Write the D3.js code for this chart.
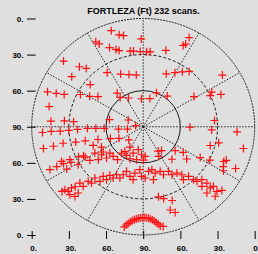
<!DOCTYPE html>
<html lang="en">
<head>
<meta charset="UTF-8">
<title>FORTLEZA sky coverage</title>
<script src="https://d3js.org/d3.v7.min.js"></script>
<style>
  body { margin: 0; padding: 0; overflow: hidden; background: #dfdfdf; }
  svg text { font-family: "Liberation Sans", Arial, sans-serif; font-weight: bold; fill: #000; }
</style>
</head>
<body>
<div id="chart"></div>
<script>
const width = 258, height = 254;

const title = "FORTLEZA (Ft)  232 scans.";
// axis positions are zenith-distance offsets in degrees, labels show elevation
const tickValues = [-90, -60, -30, 0, 30, 60, 90];
const tickLabels = ["0.", "30.", "60.", "90.", "60.", "30.", "0."];
const ringZenith = [30, 60, 90];
const spokeAzimuths = [0, 30, 60, 90, 120, 150, 180, 210, 240, 270, 300, 330];

// scans: [east offset deg, north offset deg] from zenith
const scans = [
  [-25.8, 79.9], [-19.4, 76.4], [-15.9, 75.8], [-1.6, 73.0], [-38.3, 70.6], [-35.5, 68.9],
  [-27.2, 65.8], [-22.0, 64.3], [-19.4, 63.3], [-10.5, 62.9], [-7.8, 62.9], [-2.4, 62.5],
  [2.7, 62.3], [5.6, 62.3], [18.3, 63.5], [32.3, 67.6], [34.3, 68.7], [37.1, 74.1],
  [-64.3, 54.6], [-51.5, 49.9], [-46.0, 48.5], [-57.7, 41.6], [-29.1, 45.0], [-18.2, 43.8],
  [-11.5, 43.4], [-5.6, 43.0], [18.6, 44.0], [25.6, 45.0], [31.6, 45.7], [37.1, 46.0],
  [63.9, 43.0], [-42.8, 35.1], [-77.2, 29.0], [-70.2, 27.8], [-63.8, 26.9], [-50.7, 26.8],
  [-43.2, 25.3], [-36.5, 25.1], [-21.0, 28.0], [-18.6, 24.4], [-11.9, 23.9], [-1.4, 23.3],
  [10.7, 28.2], [19.4, 25.5], [5.4, 23.4], [41.0, 25.1], [55.3, 28.8], [54.1, 25.9],
  [62.7, 26.9], [-75.9, 16.8], [-74.5, 4.6], [-63.6, 4.9], [-56.1, 4.2], [-27.2, 6.0],
  [-12.1, 5.6], [-6.1, 1.0], [37.7, -0.4], [57.5, 5.2], [55.3, -2.6], [75.7, -4.2],
  [-81.3, -4.8], [-74.2, -3.8], [-67.0, -3.6], [-60.1, -3.0], [-53.0, -2.2], [-45.0, -1.3],
  [-38.2, -1.3], [-31.5, -1.3], [-19.9, -1.9], [-12.7, -1.9],
  [-80.5, -18.1], [-72.4, -16.2], [-64.7, -13.7], [-54.5, -12.7], [-46.8, -11.7], [-36.5, -10.6],
  [-26.5, -9.8], [-19.6, -9.6], [-11.7, -10.9], [60.9, -13.4], [54.1, -15.6], [80.9, -18.1],
  [-10.7, -16.9], [12.1, -20.2], [14.9, -19.8], [25.8, -19.9], [32.3, -21.3], [23.2, -27.0],
  [35.1, -26.8], [46.0, -25.6], [53.8, -27.7], [65.0, -28.9], [67.0, -27.9], [64.6, -33.2],
  [74.6, -34.7], [64.8, -36.6], [12.5, -24.6],
  [-75.3, -35.6], [-69.8, -33.1], [-65.9, -28.8], [-64.3, -30.6], [-61.7, -35.2], [-59.2, -27.4],
  [-58.3, -29.7], [-52.5, -31.6], [-52.2, -24.9], [-48.2, -24.1], [-43.0, -27.9], [-39.0, -21.9],
  [-36.3, -27.4], [-33.7, -23.3], [-32.3, -21.0], [-29.6, -26.0], [-26.9, -21.9], [-24.2, -24.6],
  [-20.7, -27.4], [-17.5, -21.9], [-14.8, -20.4], [-13.5, -23.8], [-10.7, -26.6], [-8.1, -21.9],
  [-5.4, -27.4], [-4.0, -19.1], [-1.4, -23.3], [1.6, -24.6], [0.2, -27.7], [-40.4, -15.5],
  [-33.7, -16.9], [-46.8, -25.2],
  [-65.6, -53.8], [-63.2, -52.4], [-60.5, -53.7], [-59.2, -56.5], [-57.9, -50.9], [-55.1, -58.0],
  [-52.5, -55.1], [-54.9, -49.9], [-51.1, -46.8], [-48.4, -49.5], [-44.4, -45.4], [-41.7, -46.8],
  [-39.0, -42.6], [-34.9, -45.4], [-32.3, -41.2], [-29.6, -44.0], [-26.9, -40.4], [-24.2, -42.6],
  [-21.5, -39.9], [-18.8, -42.6], [-16.1, -39.9], [-13.5, -37.1], [-10.7, -41.2], [-8.1, -44.0],
  [-6.7, -38.5], [-2.7, -35.7], [-1.4, -41.2],
  [1.6, -42.6], [4.3, -37.1], [7.0, -35.7], [9.7, -38.5], [8.3, -44.0], [13.7, -37.1],
  [16.4, -39.9], [20.4, -37.1], [23.2, -39.9], [27.2, -38.5], [31.2, -39.9], [32.5, -44.0],
  [36.6, -41.2], [40.6, -44.0], [43.3, -45.4], [47.4, -44.0], [47.4, -49.5], [51.4, -46.8],
  [54.1, -50.9], [51.4, -55.1], [56.7, -49.5], [59.5, -53.7], [63.5, -52.9], [58.1, -57.8],
  [12.3, -58.3], [16.5, -59.7], [23.4, -61.3], [21.8, -69.2], [25.8, -71.3],
  [-15.3, -83.3], [-13.7, -81.7], [-12.1, -80.4], [-10.5, -79.2], [-8.9, -78.2], [-7.3, -77.4],
  [-5.6, -76.7], [-4.0, -76.2], [-2.4, -75.9], [-0.8, -75.6], [0.8, -75.5], [2.4, -75.7],
  [4.0, -76.0], [5.6, -76.5], [7.3, -77.4], [8.9, -78.4], [10.5, -79.6], [12.1, -80.9],
  [13.7, -82.5], [16.1, -82.9]
];

const svg = d3.select("#chart").append("svg")
  .attr("width", width)
  .attr("height", height);

svg.append("rect").attr("width", width).attr("height", height).attr("fill", "#dfdfdf");

const x = d3.scaleLinear().domain([-90, 90]).range([31.7, 254.7]);
const y = d3.scaleLinear().domain([90, -90]).range([18.5, 235]);

const cx = x(0), cy = y(0);
const rx = d => x(d) - x(0);
const ry = d => y(0) - y(d);

// rings
const ringStyle = {30: null, 60: "3,2", 90: "2,1"};
svg.selectAll(".ring")
  .data(ringZenith)
  .enter().append("ellipse")
  .attr("cx", cx).attr("cy", cy)
  .attr("rx", d => rx(d)).attr("ry", d => ry(d))
  .attr("fill", "none")
  .attr("stroke", "#1a1a1a")
  .attr("stroke-width", 1)
  .attr("stroke-dasharray", d => ringStyle[d]);

// spokes
svg.selectAll(".spoke")
  .data(spokeAzimuths)
  .enter().append("line")
  .attr("x1", cx).attr("y1", cy)
  .attr("x2", d => x(90 * Math.sin(d * Math.PI / 180)))
  .attr("y2", d => y(90 * Math.cos(d * Math.PI / 180)))
  .attr("stroke", "#222")
  .attr("stroke-width", 1)
  .attr("stroke-dasharray", "1.5,1.5");

// scans as plus markers
const s = 4;
const plus = svg.append("g").selectAll("path")
  .data(scans)
  .enter().append("path")
  .attr("d", d => {
    const px = x(d[0]), py = y(d[1]);
    return `M${px - s},${py}H${px + s}M${px},${py - s}V${py + s}`;
  })
  .attr("stroke", "#ff1010")
  .attr("stroke-width", 1.2)
  .attr("fill", "none");

// axes
const fmt = (d, i) => tickLabels[i];

const yAxis = svg.append("g")
  .attr("transform", "translate(35.7,0)")
  .call(d3.axisLeft(y).tickValues(tickValues).tickFormat(fmt).tickSize(8.7).tickPadding(3.5));
yAxis.select(".domain").remove();

const xAxis = svg.append("g")
  .attr("transform", "translate(0,231)")
  .call(d3.axisBottom(x).tickValues(tickValues).tickFormat(fmt).tickSize(8).tickPadding(6));
xAxis.select(".domain").remove();

svg.selectAll(".tick line").attr("stroke", "#000").attr("stroke-width", 1);
svg.selectAll(".tick text")
  .style("font-family", '"Liberation Sans", Arial, sans-serif')
  .style("font-weight", "bold")
  .style("font-size", "8px");
xAxis.selectAll(".tick text").attr("dx", "0.17em");

svg.append("text")
  .attr("x", 143.5)
  .attr("y", 13.5)
  .attr("text-anchor", "middle")
  .style("font-size", "9px")
  .text(title);
</script>
</body>
</html>
